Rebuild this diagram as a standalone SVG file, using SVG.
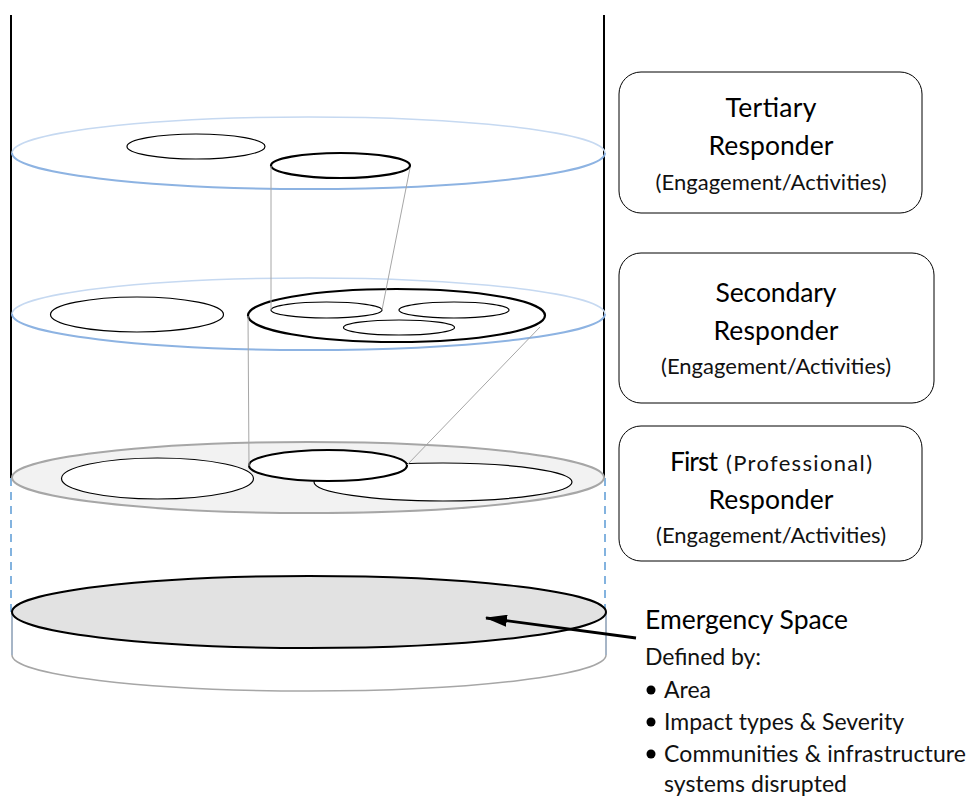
<svg xmlns="http://www.w3.org/2000/svg" width="969" height="796" viewBox="0 0 969 796">
<style>
.cyl{stroke:#000;stroke-width:2;fill:none}
.dash{stroke:#5b9bd5;stroke-width:1.5;stroke-dasharray:8 6;fill:none}
.ptop{stroke:#c6d9f1;stroke-width:1.5;fill:none}
.pbot{stroke:#8db3e2;stroke-width:2;fill:none}
.in{stroke:#000;stroke-width:1.2;fill:#fff}
.bold{stroke:#000;stroke-width:2.2;fill:#fff}
.conn{stroke:#a6a6a6;stroke-width:1;fill:none}
.box{stroke:#000;stroke-width:1;fill:#fff}
.h{font-family:Lato,"Open Sans",sans-serif;font-size:26.5px;fill:#000;text-anchor:middle}
.s{font-family:Lato,"Open Sans",sans-serif;font-size:22px;fill:#111;text-anchor:middle}
.l{font-family:Lato,"Open Sans",sans-serif;font-size:23px;fill:#111}
.lh{font-family:Lato,"Open Sans",sans-serif;font-size:26.5px;fill:#000}
</style>
<defs>
<marker id="ah" viewBox="0 0 22 12" refX="21" refY="6" markerWidth="22" markerHeight="12" markerUnits="userSpaceOnUse" orient="auto">
<path d="M0,0 L22,6 L0,12 z" fill="#000"/>
</marker>
</defs>

<g id="cylinder">
<line class="cyl" x1="11" y1="15" x2="11" y2="478"/>
<line class="cyl" x1="604" y1="15" x2="604" y2="478"/>
<line class="dash" x1="11" y1="478" x2="11" y2="612"/>
<line class="dash" x1="605" y1="478" x2="605" y2="612"/>
</g>

<g id="tertiary-plane">
<path class="ptop" d="M12,153 A296.5,36 0 0 1 605,153"/>
<path class="pbot" d="M12,153 A296.5,36 0 0 0 605,153"/>
<ellipse class="in" cx="196" cy="146.5" rx="69" ry="12.5"/>
<ellipse class="bold" cx="340.5" cy="165.5" rx="69.5" ry="12.5"/>
</g>

<g id="secondary-plane">
<path class="ptop" d="M12,314 A296.5,36 0 0 1 605,314"/>
<path class="pbot" d="M12,314 A296.5,36 0 0 0 605,314"/>
<ellipse class="in" cx="137" cy="314.5" rx="86.5" ry="17.5"/>
<ellipse class="bold" cx="396.5" cy="315.5" rx="148.5" ry="26.5"/>
<ellipse class="in" cx="326.5" cy="310" rx="55.5" ry="8"/>
<ellipse class="in" cx="454" cy="310" rx="55" ry="8"/>
<ellipse class="in" cx="399" cy="327.5" rx="55.5" ry="7.5"/>
</g>

<g id="first-plane">
<ellipse cx="308" cy="477.5" rx="296" ry="35.5" fill="#f2f2f2" stroke="#a6a6a6" stroke-width="2"/>
<ellipse class="in" cx="157.5" cy="478.5" rx="96" ry="20.5"/>
<ellipse class="in" cx="443" cy="482" rx="129" ry="19"/>
<ellipse class="bold" cx="328" cy="465.5" rx="79" ry="15.5"/>
</g>

<g id="emergency-space">
<line x1="12" y1="612" x2="12" y2="655" stroke="#4f6d8f" stroke-width="1"/>
<line x1="606" y1="612" x2="606" y2="655" stroke="#4f6d8f" stroke-width="1"/>
<path d="M12,655 A297,36 0 0 0 606,655" fill="#fff" stroke="#a6a6a6" stroke-width="1.5"/>
<ellipse cx="309" cy="612" rx="297" ry="36" fill="#e2e2e2" stroke="#000" stroke-width="2"/>
</g>

<g id="connectors">
<line class="conn" x1="271" y1="166" x2="271" y2="310"/>
<line class="conn" x1="410" y1="168" x2="382" y2="310"/>
<line class="conn" x1="248" y1="316" x2="249" y2="466"/>
<line class="conn" x1="540" y1="327" x2="407" y2="465"/>
<line x1="636" y1="638" x2="486" y2="618" stroke="#000" stroke-width="2.8" marker-end="url(#ah)"/>
</g>

<g id="tertiary-box">
<rect class="box" x="619" y="72" width="303" height="141" rx="22"/>
<text class="h" x="771" y="117" textLength="91">Tertiary</text>
<text class="h" x="771" y="155" textLength="125">Responder</text>
<text class="s" x="771" y="190" textLength="231">(Engagement/Activities)</text>
</g>

<g id="secondary-box">
<rect class="box" x="619" y="253" width="315" height="150" rx="22"/>
<text class="h" x="776" y="302" textLength="121">Secondary</text>
<text class="h" x="776" y="340" textLength="125">Responder</text>
<text class="s" x="776" y="374" textLength="230">(Engagement/Activities)</text>
</g>

<g id="first-box">
<rect class="box" x="619" y="426" width="303" height="135" rx="22"/>
<text class="lh" x="670" y="471" textLength="48">First</text>
<text class="l" x="726" y="471" textLength="146" style="font-size:22px">(Professional)</text>
<text class="h" x="771" y="509" textLength="125">Responder</text>
<text class="s" x="771" y="543" textLength="230">(Engagement/Activities)</text>
</g>

<g id="emergency-text">
<text class="lh" x="645" y="629" textLength="203">Emergency Space</text>
<text class="l" x="645" y="665" textLength="116">Defined by:</text>
<circle cx="651" cy="690" r="4.5" fill="#000"/>
<text class="l" x="664" y="698" textLength="47">Area</text>
<circle cx="651" cy="722" r="4.5" fill="#000"/>
<text class="l" x="664" y="730" textLength="240">Impact types &amp; Severity</text>
<circle cx="651" cy="754" r="4.5" fill="#000"/>
<text class="l" x="664" y="762" textLength="302">Communities &amp; infrastructure</text>
<text class="l" x="664" y="792" textLength="183">systems disrupted</text>
</g>
</svg>
